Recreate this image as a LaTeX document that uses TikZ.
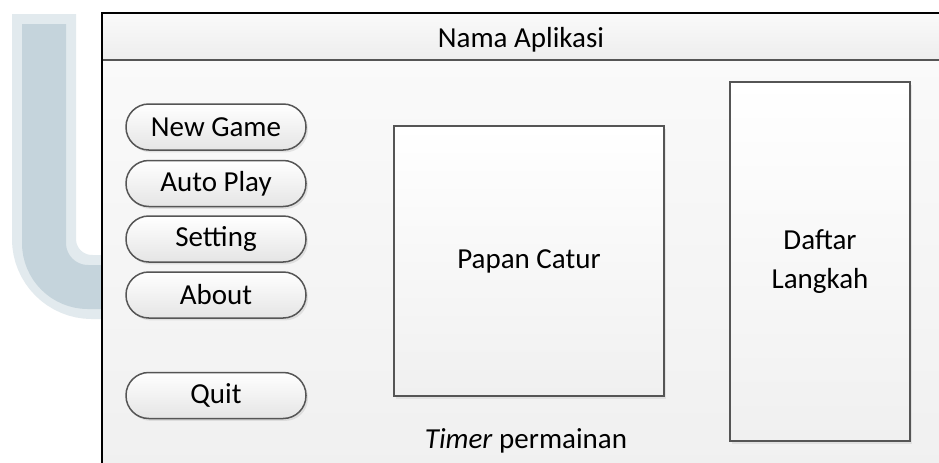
\documentclass[tikz,border=0pt]{standalone}
\usepackage{fontspec}
\setmainfont{Carlito}
\usetikzlibrary{shadows}
\definecolor{wmark}{RGB}{197,212,220}
\definecolor{wmarksoft}{RGB}{226,234,238}
\definecolor{edgegray}{RGB}{85,85,85}
\definecolor{panebg}{RGB}{240,240,240}
\tikzset{
  px/.style={x=0.5pt,y=-0.5pt},
  uifont/.style={font=\fontsize{14.5}{17.5}\selectfont},
  pill/.style={draw=edgegray,line width=0.75pt,rounded corners=11.4pt,
    minimum width=90pt,minimum height=23pt,inner sep=0pt,
    top color=white,bottom color=panebg!90!gray,
    drop shadow={shadow xshift=1pt,shadow yshift=-1.2pt,opacity=0.18},uifont},
  panel/.style={draw=edgegray,line width=1pt,inner sep=0pt,
    top color=white,bottom color=panebg,
    drop shadow={shadow xshift=1.2pt,shadow yshift=-1.5pt,opacity=0.15},uifont,align=center},
  label/.style={uifont,inner sep=0pt}
}
\begin{document}
\begin{tikzpicture}[px]
\useasboundingbox (0,0) rectangle (939,462);
\clip (0,0) rectangle (939,462);
\fill[white] (0,0) rectangle (939,462);
% faint logo mark at the left
\draw[wmarksoft,line width=32pt,rounded corners=24pt] (44,14) -- (44,287) -- (110,287);
\draw[wmark,line width=22pt,rounded corners=22pt] (44,24) -- (44,287) -- (110,287);
% application window
\shade[top color=white!98!black,bottom color=panebg] (102,60) rectangle (950,475);
\shade[top color=white!98!black,bottom color=white!93!black] (102,13) rectangle (950,60);
\draw[edgegray,line width=1pt] (102,60) -- (950,60);
\draw[black,line width=1.1pt] (950,13) -- (102,13) -- (102,475);
\node[label] (title) at (521,40) {Nama Aplikasi};
% menu buttons
\node[pill] (newgame) at (216,127) {New Game};
\node[pill] (autoplay) at (216,183.5) {Auto Play};
\node[pill] (setting) at (216,239) {Setting};
\node[pill] (about) at (216,295) {About};
\node[pill] (quit) at (216,395.5) {Quit};
% board and move list
\node[panel,minimum width=135pt,minimum height=135pt] (board) at (529,261) {Papan Catur};
\node[panel,minimum width=90pt,minimum height=179.5pt] (moves) at (820,261.5) {Daftar\\[2pt]Langkah};
\node[label] (timer) at (526,441) {\textit{Timer} permainan};
\end{tikzpicture}
\end{document}
